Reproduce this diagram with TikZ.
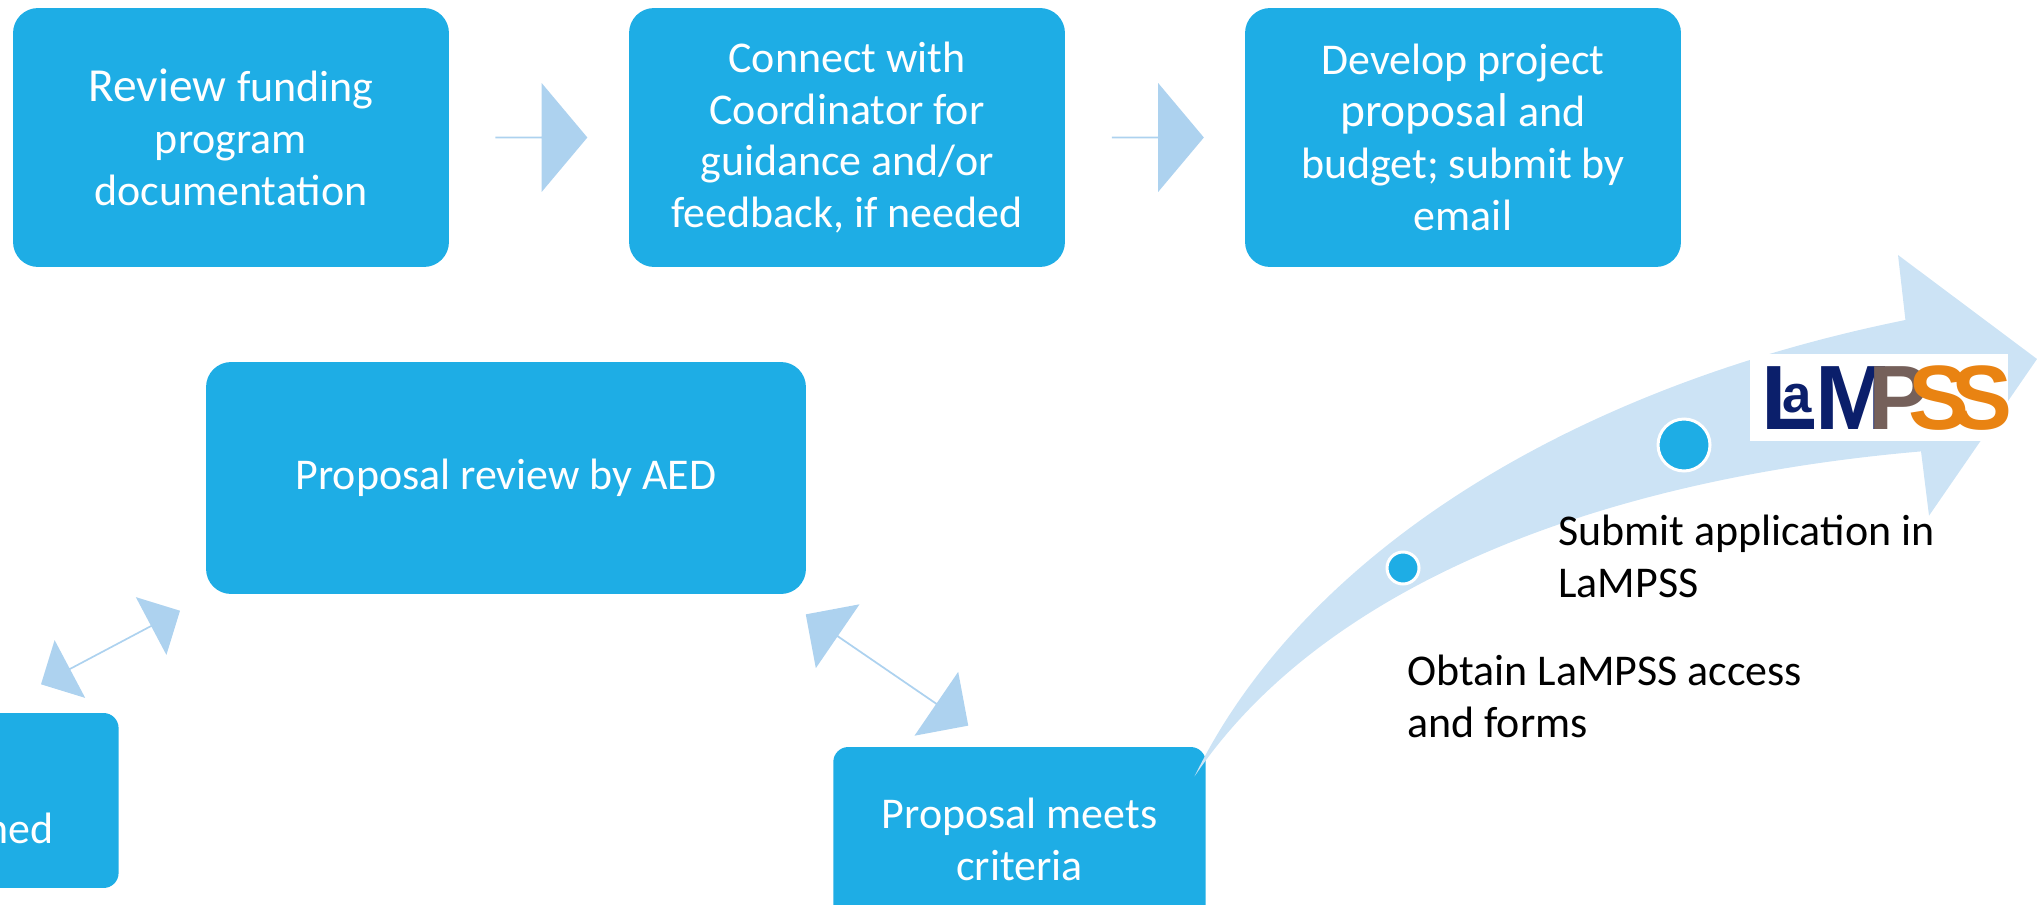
\documentclass[tikz,border=0pt]{standalone}
\usepackage{fontspec}
\setmainfont{Carlito}
\newfontfamily\logofont{Liberation Sans}
\usetikzlibrary{shapes.arrows}

\definecolor{boxblue}{HTML}{1EADE5}
\definecolor{arrowblue}{HTML}{ADD2EF}
\definecolor{swooshblue}{HTML}{CCE3F5}
\definecolor{logonavy}{HTML}{0B1F6B}
\definecolor{logobrown}{HTML}{75605A}
\definecolor{logoorange}{HTML}{E98312}

\begin{document}
\begin{tikzpicture}[x=0.02cm, y=-0.02cm]

    \tikzstyle{stepnode} = [fill=boxblue, text=white, rounded corners=0.5cm, align=center, inner sep=0,
        minimum width=8.72cm, minimum height=5.18cm, font=\fontsize{25}{29.5}\selectfont];
    \tikzstyle{smallnode} = [stepnode, rounded corners=0.3cm];
    \tikzstyle{blockarrow} = [fill=arrowblue, single arrow, inner sep=0, single arrow head extend=0.44cm,
        single arrow head indent=0, single arrow tip angle=100, minimum width=2.18cm, minimum height=1.84cm];
    \tikzstyle{bothways} = [fill=arrowblue, double arrow, inner sep=0, double arrow head indent=0, double arrow tip angle=90];
    \tikzstyle{dotnode} = [circle, fill=boxblue, draw=white, line width=0.06cm, inner sep=0];
    \tikzstyle{plainlabel} = [anchor=north west, align=left, inner sep=0, font=\fontsize{25}{29.5}\selectfont];
    \tikzstyle{logoletter} = [anchor=base west, inner sep=0, font=\logofont\bfseries\fontsize{52}{52}\selectfont];

    \clip (0,0) rectangle (2037,905);
    \path[use as bounding box] (0,0) rectangle (2037,905);

    % Top - Steps
    \node[stepnode] (REVIEW) at (231,137.5) {\fontsize{27}{29.5}\selectfont Review \fontsize{25}{29.5}\selectfont funding\\program\\documentation};
    \node[stepnode] (CONNECT) at (847,137.5) {Connect with\\Coordinator for\\guidance and/or\\feedback, if needed};
    \node[stepnode] (DEVELOP) at (1463,137.5) {Develop project\\\fontsize{27}{29.5}\selectfont proposal \fontsize{25}{29.5}\selectfont and\\budget; submit by\\email};

    \node[blockarrow] (AR1) at (541,137.5) {};
    \node[blockarrow] (AR2) at (1157.5,137.5) {};
    % Top - Steps

    % Bottom - Review
    \node[stepnode, minimum width=12cm, minimum height=4.64cm] (AED) at (506,478) {Proposal review by AED};
    \node[smallnode, minimum width=7.45cm, minimum height=3.7cm] (MEETS) at (1019.5,839.5) {Proposal meets\\criteria};
    \node[smallnode, minimum width=4.4cm, minimum height=3.5cm] (NEEDED) at (8.6,800.5) {};
    \node[anchor=base east, inner sep=0, text=white, font=\fontsize{25}{29.5}\selectfont] (NED) at (54,843) {ned};

    \node[bothways, rotate=27.9, minimum width=1.308cm, minimum height=3.146cm, double arrow head extend=0.265cm] (AR3) at (110.5,647.5) {};
    \node[bothways, rotate=-34.4, minimum width=1.548cm, minimum height=3.94cm, double arrow head extend=0.305cm] (AR4) at (887,670) {};
    % Bottom - Review

    % Right - Swoosh
    \fill[swooshblue] (1194.5,776.4) .. controls (1300,560) and (1560,390) .. (1905.4,320)
        -- (1898,255) -- (2037,359) -- (1929,515.7) -- (1921,451.4)
        .. controls (1590,480) and (1320,590) .. cycle;

    \node[dotnode, minimum size=1.04cm] (DOTB) at (1684,445) {};
    \node[dotnode, minimum size=0.64cm] (DOTA) at (1403,568) {};

    \node[plainlabel] (SUBMIT) at (1558,515) {Submit application in\\LaMPSS};
    \node[plainlabel] (OBTAIN) at (1407,655) {Obtain LaMPSS access\\and forms};

    \node[fill=white, minimum width=5.16cm, minimum height=1.74cm, inner sep=0] (LOGO) at (1879,397.5) {};
    \node[logoletter, text=logonavy] (LOGOL) at (1761,429) {L};
    \node[logoletter, text=logonavy, font=\logofont\bfseries\fontsize{30}{30}\selectfont] (LOGOA) at (1782,412) {a};
    \node[logoletter, text=logonavy] (LOGOM) at (1815,429) {M};
    \node[logoletter, text=logobrown] (LOGOP) at (1868,429) {P};
    \node[logoletter, text=logoorange] (LOGOS) at (1908,429) {S};
    \node[logoletter, text=logoorange] (LOGOT) at (1951,429) {S};
    % Right - Swoosh

\end{tikzpicture}
\end{document}
